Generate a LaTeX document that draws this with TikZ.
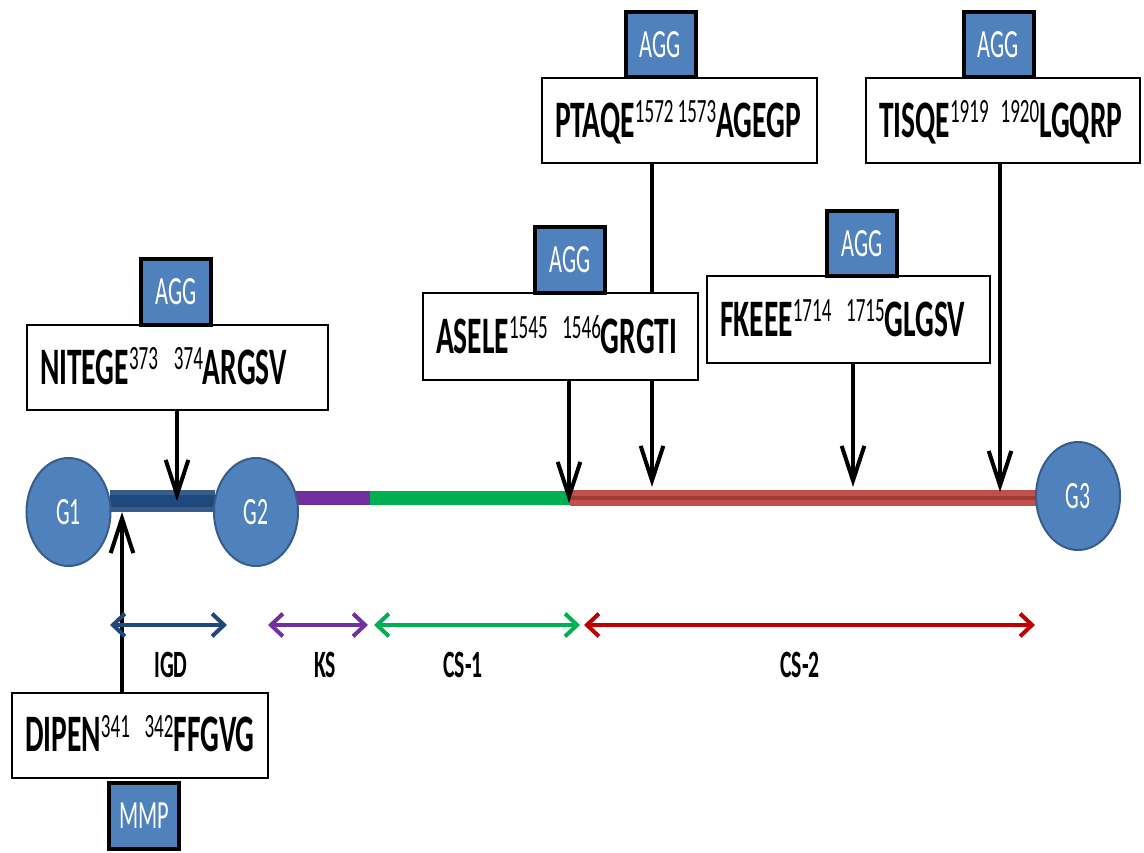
\documentclass[tikz,border=0pt]{standalone}
\usepackage{fontspec}
\setmainfont{Carlito}[FakeStretch=0.56]
\usetikzlibrary{arrows.meta, shapes.geometric, positioning}
\definecolor{globecol}{RGB}{79,129,189}
\definecolor{globeedge}{RGB}{56,93,138}
\definecolor{igdcol}{RGB}{31,73,125}
\definecolor{kscol}{RGB}{112,48,160}
\definecolor{csonecol}{RGB}{0,176,80}
\definecolor{cstwocol}{RGB}{192,80,77}
\definecolor{cstwodark}{RGB}{160,58,55}
\definecolor{cstwoarrow}{RGB}{192,0,0}
% neoepitope text: left part, two superscript residue numbers, right part, gap
\newcommand{\cleavage}[5]{\mbox{#1\raisebox{11pt}{\fontsize{25.5}{26}\selectfont\mdseries #2\hspace{#5}#3}#4}}
\tikzset{
  sitebox/.style={draw=black, line width=1.5pt, fill=white,
    font=\fontsize{39.5}{42}\selectfont\bfseries, text height=25pt, text depth=0pt,
    minimum height=63.75pt, inner xsep=9.75pt, align=left, text width=#1},
  enzyme/.style={draw=black, line width=3pt, fill=globecol, text=white,
    font=\fontsize{30}{32}\selectfont, minimum width=52.5pt, minimum height=49pt, inner sep=0pt},
  globe/.style={ellipse, draw=globeedge, line width=1.5pt, fill=globecol, text=white,
    font=\fontsize{29}{31}\selectfont, minimum width=63pt, minimum height=81pt, inner sep=0pt},
  cut/.style={draw=black, line width=3pt, -{Straight Barb[length=26pt, width=17pt]}},
  span/.style={line width=3pt, {Straight Barb[length=9pt, width=17pt]}-{Straight Barb[length=9pt, width=17pt]}},
  spanlabel/.style={font=\fontsize{29}{31}\selectfont\bfseries, inner sep=0pt}
}
\begin{document}
\begin{tikzpicture}[x=0.75pt, y=-0.75pt]
  \useasboundingbox (0,0) rectangle (1144,852);

  % --- cleavage positions on the core protein ----------------------------
  \coordinate (tip374) at (177,501);
  \coordinate (tip342) at (122,512);
  \coordinate (tip1546) at (569,503);
  \coordinate (tip1573) at (652,487);
  \coordinate (tip1715) at (853,487);
  \coordinate (tip1920) at (1000,492);

  % --- core protein backbone ---------------------------------------------
  \draw[globeedge, line width=16.5pt] (110,501) -- (215,501);
  \draw[igdcol, line width=9pt] (110,501) -- (215,501);
  \draw[kscol, line width=10.5pt] (293,498) -- (370,498);
  \draw[csonecol, line width=10.5pt] (370,498) -- (570,498);
  \draw[cstwocol, line width=12pt] (570,498) -- (1036,498);
  \draw[cstwodark, line width=3pt] (570,498) -- (1036,498);

  % --- globular domains ---------------------------------------------------
  \node[globe] (g1) at (68.5,512) {G1};
  \node[globe] (g2) at (256,512) {G2};
  \node[globe] (g3) at (1078,496) {G3};

  % --- upper row, lines run behind the lower boxes ------------------------
  \node[sitebox=186.75pt] (ptaqe) at (679.5,120.5) {\cleavage{PTAQE}{1572}{1573}{AGEGP}{3pt}};
  \draw[cut] (ptaqe.south -| tip1573) -- (tip1573);
  \node[sitebox=186pt] (tisqe) at (1003,120.5) {\cleavage{TISQE}{1919}{1920}{LGQRP}{9pt}};
  \draw[cut] (tisqe.south -| tip1920) -- (tip1920);

  % --- lower row -----------------------------------------------------------
  \node[sitebox=186.75pt, minimum height=65pt] (asele) at (560.5,336.5) {\cleavage{ASELE}{1545}{1546}{GRGTI}{11pt}};
  \draw[cut] (asele.south -| tip1546) -- (tip1546);
  \node[sitebox=192.75pt, minimum height=65pt] (fkeee) at (848.5,319.5) {\cleavage{FKEEE}{1714}{1715}{GLGSV}{11pt}};
  \draw[cut] (fkeee.south -| tip1715) -- (tip1715);
  \node[sitebox=206.25pt] (nitege) at (177.5,367.5) {\cleavage{NITEGE}{373}{374}{ARGSV}{12pt}};
  \draw[cut] (nitege.south -| tip374) -- (tip374);
  \node[sitebox=172.5pt] (dipen) at (140,735) {\cleavage{DIPEN}{341}{342}{FFGVG}{11pt}};
  \draw[cut] (dipen.north -| tip342) -- (tip342);

  % --- enzymes -------------------------------------------------------------
  \node[enzyme] (aggA) at (176,292) {AGG};
  \node[enzyme] (aggB) at (570,260) {AGG};
  \node[enzyme] (aggC) at (660.5,44.5) {AGG};
  \node[enzyme] (aggD) at (862,243.5) {AGG};
  \node[enzyme] (aggE) at (998.5,44.5) {AGG};
  \node[enzyme] (mmp) at (144,816) {MMP};

  % --- domain spans ----------------------------------------------------------
  \draw[span, igdcol] (110,625) -- (227,625);
  \draw[span, kscol] (268,625) -- (368,625);
  \draw[span, csonecol] (374,625) -- (580,625);
  \draw[span, cstwoarrow] (584,625) -- (1035,625);
  \node[spanlabel] (lblIGD) at (171,665) {IGD};
  \node[spanlabel] (lblKS) at (325,665) {KS};
  \node[spanlabel] (lblCSone) at (463,665) {CS-1};
  \node[spanlabel] (lblCStwo) at (800,665) {CS-2};

\end{tikzpicture}
\end{document}
